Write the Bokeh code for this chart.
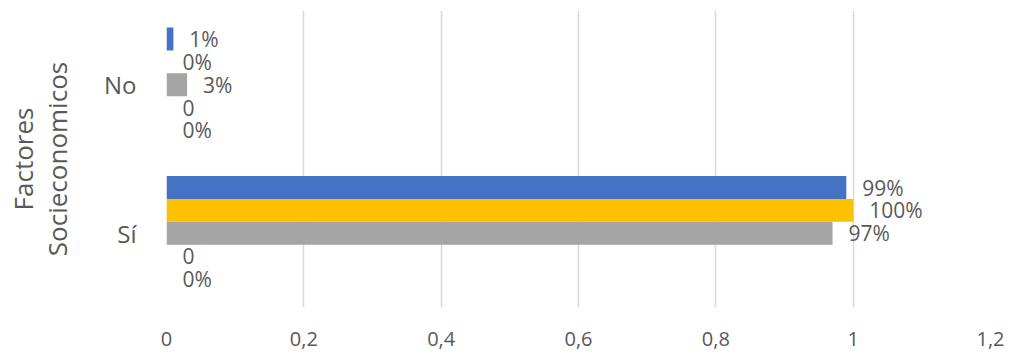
from bokeh.plotting import figure
from bokeh.models import ColumnDataSource, FactorRange, Range1d, FixedTicker
from bokeh.transform import dodge
from bokeh.core.properties import value
from bokeh.embed import file_html
from bokeh.resources import INLINE

# Categories (bottom to top) and series values
categories = ["Sí", "No"]
serie_1 = [0.99, 0.01]
serie_2 = [1.00, 0.00]
serie_3 = [0.97, 0.03]
serie_4 = [0.0, 0.0]
serie_5 = [0.0, 0.0]

labels_1 = ["99%", "1%"]
labels_2 = ["100%", "0%"]
labels_3 = ["97%", "3%"]
labels_4 = ["0", "0"]
labels_5 = ["0%", "0%"]

x_ticks = [0, 0.2, 0.4, 0.6, 0.8, 1, 1.2]
x_tick_labels = ["0", "0,2", "0,4", "0,6", "0,8", "1", "1,2"]

FONT = "Open Sans"
TEXT_COLOR = "#595959"

p = figure(
    width=1009, height=354,
    y_range=FactorRange(factors=categories, range_padding=0),
    x_range=Range1d(0, 1.2),
    output_backend="svg", toolbar_location=None,
    min_border_left=166, min_border_right=19,
    min_border_top=10, min_border_bottom=47,
)
p.outline_line_color = None
p.background_fill_color = "white"

bar_h = 0.154
series = [
    (serie_1, labels_1, "#4472C4", 2),
    (serie_2, labels_2, "#FFC000", 1),
    (serie_3, labels_3, "#A5A5A5", 0),
    (serie_4, labels_4, "#5B9BD5", -1),
    (serie_5, labels_5, "#70AD47", -2),
]

for vals, labs, color, k in series:
    src = ColumnDataSource(dict(cat=categories, val=vals, lab=labs))
    ypos = dodge("cat", k * bar_h, range=p.y_range)
    p.hbar(y=ypos, left=0, right="val", height=bar_h, source=src,
           fill_color=color, line_color=None)
    p.text(x="val", y=ypos, text="lab", source=src, x_offset=16,
           text_baseline="middle", text_align="left",
           text_font=value(FONT), text_font_size="21px",
           text_color=TEXT_COLOR)

# x axis
p.xaxis.ticker = FixedTicker(ticks=x_ticks)
p.xaxis.major_label_overrides = {t: l for t, l in zip(x_ticks, x_tick_labels)}
p.xaxis.axis_line_color = None
p.xaxis.major_tick_line_color = None
p.xaxis.minor_tick_line_color = None
p.xaxis.major_label_standoff = 18
p.xaxis.major_label_text_font = FONT
p.xaxis.major_label_text_font_size = "20px"
p.xaxis.major_label_text_color = TEXT_COLOR

# y axis
p.yaxis.axis_line_color = None
p.yaxis.major_tick_line_color = None
p.yaxis.minor_tick_line_color = None
p.yaxis.major_label_standoff = 24
p.yaxis.major_label_text_font = FONT
p.yaxis.major_label_text_font_size = "24px"
p.yaxis.major_label_text_color = TEXT_COLOR
p.yaxis.axis_label = "Factores\nSocieconomicos"
p.yaxis.axis_label_standoff = 26
p.yaxis.axis_label_text_font = FONT
p.yaxis.axis_label_text_font_size = "26px"
p.yaxis.axis_label_text_line_height = 0.95
p.yaxis.axis_label_text_font_style = "normal"
p.yaxis.axis_label_text_color = TEXT_COLOR

p.xgrid.grid_line_color = "#D9D9D9"
p.xgrid.grid_line_width = 1.5
p.ygrid.grid_line_color = None

open("out.html", "w").write(file_html(p, INLINE))
